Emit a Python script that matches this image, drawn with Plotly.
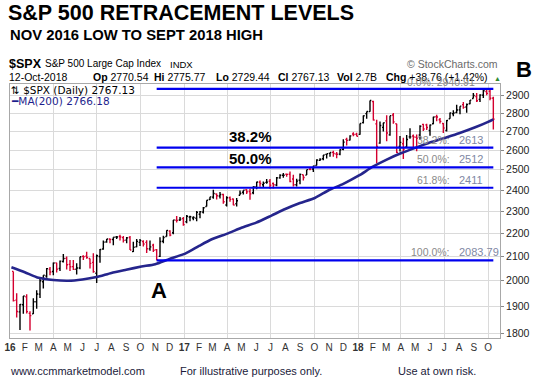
import math
import pandas as pd
import plotly.graph_objects as go

# ---------------- data ----------------
week_end = [d.strftime("%Y-%m-%d") for d in pd.date_range("2016-01-08", "2018-10-12", freq="W-FRI")]

opens = [
    2038.2, 1923.8, 1878.9, 1906.3, 1936.9, 1873.3, 1871.4, 1917.8, 1947.4, 1996.1,
    2019.3, 2047.6, 2037.9, 2073.2, 2050.2, 2078.8, 2092.0, 2067.2, 2058.0, 2047.2,
    2052.2, 2100.5, 2101.6, 2091.8, 2075.6, 2030.8, 2100.0, 2131.7, 2162.0, 2175.0,
    2173.1, 2183.7, 2186.1, 2181.3, 2170.2, 2181.6, 2120.9, 2140.9, 2160.4, 2164.3,
    2160.4, 2132.6, 2148.5, 2129.0, 2100.6, 2165.6, 2186.4, 2210.2, 2202.6, 2258.8,
    2259.7, 2266.2,
    2251.6, 2273.6, 2269.1, 2267.8, 2286.0, 2295.9, 2321.7, 2354.9, 2366.2, 2380.9,
    2371.6, 2378.2, 2329.1, 2363.3, 2357.2, 2335.0, 2374.7, 2389.0, 2401.6, 2393.0,
    2387.2, 2414.5, 2437.8, 2425.4, 2437.0, 2442.5, 2431.4, 2424.5, 2459.5, 2472.0,
    2477.1, 2477.1, 2454.0, 2425.5, 2447.4, 2474.5, 2473.0, 2502.5, 2503.3, 2521.2,
    2547.4, 2555.7, 2578.1, 2583.2, 2588.7, 2580.2, 2579.5, 2605.0, 2657.2, 2653.0,
    2685.9, 2684.2,
    2683.7, 2747.7, 2798.0, 2809.2, 2867.2, 2741.1, 2636.8, 2722.0, 2757.4, 2681.1,
    2790.5, 2741.4, 2619.4, 2633.5, 2617.2, 2670.1, 2675.4, 2668.7, 2680.8, 2738.3,
    2735.4, 2705.1, 2741.7, 2780.2, 2763.4, 2742.9, 2704.9, 2769.6, 2796.9, 2804.6,
    2819.0, 2849.0, 2835.5, 2853.9, 2884.7, 2896.0, 2879.5, 2903.8, 2924.8, 2926.3,
    2886.4,
]
highs = [
    2038.2, 1950.3, 1908.9, 1940.2, 1947.2, 1881.6, 1930.7, 1962.9, 2009.1, 2022.4,
    2052.4, 2056.6, 2075.1, 2074.0, 2083.1, 2111.1, 2099.9, 2084.9, 2084.9, 2071.9,
    2099.1, 2105.3, 2120.6, 2091.8, 2113.3, 2108.7, 2131.7, 2169.1, 2175.6, 2177.0,
    2182.9, 2188.5, 2193.8, 2187.9, 2183.5, 2187.9, 2162.9, 2175.3, 2175.3, 2169.6,
    2169.6, 2169.1, 2154.8, 2131.6, 2182.3, 2189.9, 2213.4, 2214.1, 2259.8, 2277.5,
    2273.8, 2273.0,
    2282.1, 2279.3, 2276.4, 2300.9, 2300.9, 2319.2, 2351.3, 2367.8, 2401.0, 2383.9,
    2390.0, 2382.4, 2370.4, 2369.0, 2359.2, 2361.4, 2398.2, 2399.3, 2404.0, 2405.8,
    2418.7, 2440.2, 2446.2, 2441.0, 2454.0, 2453.8, 2436.0, 2463.5, 2477.6, 2484.0,
    2480.4, 2490.9, 2474.9, 2454.8, 2480.4, 2474.5, 2500.2, 2508.9, 2519.4, 2552.5,
    2557.7, 2575.4, 2582.0, 2588.4, 2597.0, 2590.4, 2604.2, 2657.7, 2665.2, 2679.6,
    2694.9, 2692.1,
    2743.5, 2787.9, 2810.3, 2872.9, 2870.6, 2763.4, 2754.4, 2747.8, 2789.2, 2786.6,
    2801.9, 2741.4, 2674.8, 2665.4, 2680.3, 2717.5, 2683.5, 2682.9, 2732.9, 2742.1,
    2742.2, 2736.9, 2779.9, 2791.5, 2774.0, 2746.1, 2762.7, 2804.4, 2816.8, 2848.0,
    2840.4, 2863.4, 2855.6, 2876.2, 2916.5, 2916.5, 2908.3, 2940.9, 2939.9, 2939.9,
    2894.8,
]
lows = [
    1918.5, 1857.8, 1812.3, 1872.0, 1872.7, 1810.1, 1871.4, 1891.0, 1931.8, 1969.3,
    2012.8, 2022.5, 2022.1, 2033.8, 2039.7, 2075.0, 2045.9, 2039.5, 2043.8, 2025.9,
    2047.3, 2085.1, 2091.1, 2050.4, 2032.6, 1991.7, 2074.0, 2128.8, 2159.0, 2156.7,
    2147.6, 2175.1, 2168.5, 2160.4, 2157.1, 2127.8, 2119.1, 2139.2, 2145.0, 2142.6,
    2114.7, 2124.6, 2119.1, 2083.8, 2097.6, 2156.8, 2186.4, 2187.4, 2196.0, 2248.4,
    2254.7, 2233.6,
    2245.1, 2254.3, 2258.8, 2254.4, 2267.2, 2289.1, 2321.7, 2352.9, 2358.0, 2354.5,
    2359.0, 2335.0, 2322.3, 2344.7, 2328.2, 2322.3, 2374.7, 2378.0, 2381.1, 2353.0,
    2379.8, 2403.6, 2415.7, 2415.0, 2430.5, 2405.7, 2407.7, 2418.0, 2455.0, 2459.9,
    2465.0, 2437.8, 2417.4, 2417.4, 2428.2, 2446.6, 2473.0, 2496.7, 2488.0, 2521.2,
    2543.6, 2547.9, 2557.4, 2566.2, 2566.3, 2557.5, 2574.1, 2599.0, 2624.8, 2650.6,
    2673.6, 2673.6,
    2682.4, 2743.6, 2769.2, 2808.1, 2759.1, 2532.7, 2634.1, 2699.5, 2647.3, 2675.8,
    2742.1, 2585.9, 2593.1, 2553.8, 2610.8, 2660.0, 2612.2, 2594.6, 2655.2, 2701.9,
    2707.4, 2676.8, 2739.5, 2755.0, 2742.9, 2691.0, 2698.9, 2769.6, 2783.5, 2799.9,
    2795.1, 2825.8, 2802.5, 2850.5, 2884.7, 2864.1, 2864.1, 2886.9, 2903.3, 2874.0,
    2710.5,
]
closes = [
    1922.0, 1880.3, 1906.9, 1940.2, 1880.0, 1864.8, 1917.8, 1948.0, 2000.0, 2022.2,
    2049.6, 2035.9, 2072.8, 2047.6, 2080.7, 2091.6, 2065.3, 2057.1, 2046.6, 2052.3,
    2099.1, 2099.1, 2096.1, 2071.2, 2037.4, 2103.0, 2129.9, 2161.7, 2175.0, 2173.6,
    2182.9, 2184.1, 2183.9, 2169.0, 2180.0, 2127.8, 2139.2, 2164.7, 2168.3, 2153.7,
    2133.0, 2141.2, 2126.4, 2085.2, 2164.5, 2181.9, 2213.4, 2192.0, 2259.5, 2258.1,
    2263.8, 2238.8,
    2277.0, 2274.6, 2271.3, 2294.7, 2297.4, 2316.1, 2351.2, 2367.3, 2383.1, 2372.6,
    2378.3, 2344.0, 2362.7, 2355.5, 2329.0, 2348.7, 2384.2, 2399.3, 2390.9, 2381.7,
    2415.8, 2439.1, 2431.8, 2433.2, 2438.3, 2423.4, 2425.2, 2459.3, 2472.5, 2472.1,
    2476.8, 2441.3, 2425.6, 2443.1, 2476.6, 2461.4, 2500.2, 2502.2, 2519.4, 2549.3,
    2553.2, 2575.2, 2581.1, 2587.8, 2582.3, 2578.9, 2602.4, 2642.2, 2651.5, 2675.8,
    2683.3, 2673.6,
    2743.2, 2786.2, 2810.3, 2872.9, 2762.1, 2619.6, 2732.2, 2747.3, 2691.3, 2786.6,
    2752.0, 2588.3, 2640.9, 2604.5, 2656.3, 2670.1, 2669.9, 2663.4, 2727.7, 2713.0,
    2721.3, 2734.6, 2779.0, 2779.4, 2754.9, 2718.4, 2759.8, 2801.3, 2801.8, 2818.8,
    2840.4, 2833.3, 2850.1, 2874.7, 2901.5, 2871.7, 2905.0, 2929.7, 2914.0, 2885.6,
    2767.1,
]

ma_dates = [
    "2016-01-04", "2016-02-01", "2016-03-01", "2016-04-01", "2016-05-02", "2016-06-01",
    "2016-07-01", "2016-08-01", "2016-09-01", "2016-10-03", "2016-11-01", "2016-12-01",
    "2017-01-03", "2017-02-01", "2017-03-01", "2017-04-03", "2017-05-01", "2017-06-01",
    "2017-07-03", "2017-08-01", "2017-09-01", "2017-10-02", "2017-11-01", "2017-12-01",
    "2018-01-02", "2018-02-01", "2018-03-01", "2018-04-02", "2018-05-01", "2018-06-01",
    "2018-07-02", "2018-08-01", "2018-09-04", "2018-10-01", "2018-10-12",
]
ma_values = [
    2055, 2035, 2012, 2003, 2000, 2005,
    2015, 2032, 2045, 2058, 2068, 2090,
    2112, 2145, 2175, 2200, 2225, 2248,
    2280, 2310, 2338, 2362, 2400, 2430,
    2470, 2515, 2550, 2585, 2612, 2640,
    2665, 2690, 2722, 2752, 2766.18,
]

fib_pcts = ["0.0%", "38.2%", "50.0%", "61.8%", "100.0%"]
fib_levels = [2940.91, 2613, 2512, 2411, 2083.79]
fib_value_text = ["2940.91", "2613", "2512", "2411", "2083.79"]
fib_start = "2016-11-04"
fib_end = "2018-10-12"

month_ticks = [d.strftime("%Y-%m-%d") for d in pd.date_range("2016-01-01", "2018-10-01", freq="MS")]
month_text = ["<b>16</b>", "F", "M", "A", "M", "J", "J", "A", "S", "O", "N", "D",
              "<b>17</b>", "F", "M", "A", "M", "J", "J", "A", "S", "O", "N", "D",
              "<b>18</b>", "F", "M", "A", "M", "J", "J", "A", "S", "O"]
quarter_ticks = month_ticks[::3]
y_ticks = [1800, 1900, 2000, 2100, 2200, 2300, 2400, 2500, 2600, 2700, 2800, 2900]

# ---------------- layout helpers ----------------
W, H = 540, 379
L, R, T, B = 10, 40, 84, 41
PW = W - L - R
PH = H - T - B


def px(x):
    return (x - L) / PW


def py(y):
    return (H - B - y) / PH


FONT = "Liberation Sans, Arial, sans-serif"
VFONT = "DejaVu Sans, Verdana, sans-serif"

fig = go.Figure()

fig.add_trace(go.Ohlc(
    x=week_end, open=opens, high=highs, low=lows, close=closes,
    increasing=dict(line=dict(color="#000000", width=1.4)),
    decreasing=dict(line=dict(color="#d4002f", width=1.4)),
    tickwidth=0.4, hoverinfo="skip", showlegend=False,
))

fig.add_trace(go.Scatter(
    x=ma_dates, y=ma_values, mode="lines",
    line=dict(color="#25258c", width=2.6, shape="spline", smoothing=0.6),
    hoverinfo="skip", showlegend=False,
))

for lvl in fib_levels:
    fig.add_trace(go.Scatter(
        x=[fib_start, fib_end], y=[lvl, lvl], mode="lines",
        line=dict(color="#0000ee", width=2.2),
        hoverinfo="skip", showlegend=False,
    ))

# invisible trace so the quarter-grid overlay axis is drawn
fig.add_trace(go.Scatter(
    x=[fib_start], y=[fib_levels[-1]], xaxis="x2", mode="markers",
    marker=dict(opacity=0), hoverinfo="skip", showlegend=False,
))

ann = []


def text(x, y, s, size, color="#000000", anchor="left", family=FONT, vanchor="middle"):
    ann.append(dict(xref="paper", yref="paper", x=px(x), y=py(y), text=s,
                    showarrow=False, xanchor=anchor, yanchor=vanchor,
                    font=dict(family=family, size=size, color=color)))


text(6, 13, "<b>S&P 500 RETRACEMENT LEVELS</b>", 21.5)
text(8, 35.5, "<b>NOV 2016 LOW TO SEPT 2018 HIGH</b>", 14.8)
text(7, 64, "<b>$SPX</b>", 12.5)
text(43, 64, "S&P 500 Large Cap Index", 10)
text(168, 64.5, "INDX", 9.5)
text(500, 64, "© StockCharts.com", 10.5, color="#6a6a6a", anchor="right")
text(7, 76.5, "12-Oct-2018", 10.5)
text(91, 76.5, "<b>Op</b> 2770.54", 10.5)
text(152, 76.5, "<b>Hi</b> 2775.77", 10.5)
text(214, 76.5, "<b>Lo</b> 2729.44", 10.5)
text(276, 76.5, "<b>Cl</b> 2767.13", 10.5)
text(335, 76.5, "<b>Vol</b> 2.7B", 10.5)
text(384, 76.5, "<b>Chg</b> +38.76 (+1.42%)", 10.5)
text(497, 78, "▲", 7, color="#2f8a2f", anchor="center")
text(524, 69, "<b>B</b>", 22, anchor="center")
text(9, 90, "⇅ $SPX (Daily) 2767.13", 10.5, family=VFONT)
text(9, 101, "━MA(200) 2766.18", 10.5, color="#1e1e8c", family=VFONT)
text(250, 136.5, "<b>38.2%</b>", 15, anchor="center")
text(250, 158.5, "<b>50.0%</b>", 15, anchor="center")
text(158.5, 290.5, "<b>A</b>", 22, anchor="center")
text(8, 371, "www.ccmmarketmodel.com", 11, color="#1a1a3a")
text(178, 371, "For illustrative purposes only.", 11, color="#1a1a3a")
text(396, 371, "Use at own risk.", 11, color="#1a1a3a")

for i, (pct, lvl, val) in enumerate(zip(fib_pcts, fib_levels, fib_value_text)):
    if i == 0:
        ann.append(dict(xref="paper", yref="y", x=px(477), y=math.log10(lvl),
                        text=f"{pct}: {val}", showarrow=False, xanchor="right",
                        yanchor="bottom", yshift=-1,
                        font=dict(family=FONT, size=10.5, color="#8a8a8a")))
    else:
        ann.append(dict(xref="paper", yref="y", x=px(452), y=math.log10(lvl),
                        text=f"{pct}:", showarrow=False, xanchor="right",
                        yanchor="bottom", yshift=0,
                        font=dict(family=FONT, size=10.5, color="#8a8a8a")))
        ann.append(dict(xref="paper", yref="y", x=px(457), y=math.log10(lvl),
                        text=val, showarrow=False, xanchor="left",
                        yanchor="bottom", yshift=0,
                        font=dict(family=FONT, size=11, color="#8088a4")))

GRID = "#dadada"
fig.update_layout(
    width=W, height=H,
    margin=dict(l=L, r=R, t=T, b=B, autoexpand=False),
    paper_bgcolor="white", plot_bgcolor="white",
    showlegend=False,
    annotations=ann,
    xaxis=dict(
        type="date", range=["2016-01-01", "2018-10-26"], automargin=False,
        tickmode="array", tickvals=month_ticks, ticktext=month_text,
        tickangle=0,
        tickfont=dict(family=FONT, size=10, color="#333333"),
        showgrid=False, zeroline=False,
        showline=True, linecolor="#a8a8a8", linewidth=1, mirror=True,
        ticks="", rangeslider=dict(visible=False),
    ),
    xaxis2=dict(
        type="date", overlaying="x", matches="x", anchor="y", automargin=False,
        tickmode="array", tickvals=quarter_ticks,
        showticklabels=False, showgrid=True, gridcolor=GRID, gridwidth=1,
        showline=False, zeroline=False, ticks="",
    ),
    yaxis=dict(
        type="log", range=[math.log10(1783), math.log10(2969.5)], automargin=False,
        side="right", tickmode="array", tickvals=y_ticks,
        ticktext=[str(v) for v in y_ticks],
        tickfont=dict(family=FONT, size=10.5, color="#222222"),
        showgrid=True, gridcolor=GRID, gridwidth=1, zeroline=False,
        showline=True, linecolor="#a8a8a8", linewidth=1, mirror=True,
        ticks="outside", ticklen=3, tickcolor="#888888",
    ),
)

fig.write_html(
    "out.html",
    config={"displayModeBar": False},
    post_script="document.body.style.margin='0';document.body.style.padding='0';",
)
